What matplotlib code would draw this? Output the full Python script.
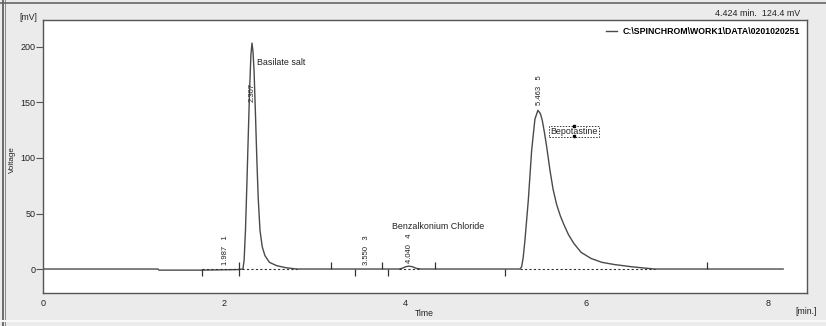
import numpy as np
import matplotlib.pyplot as plt
from matplotlib.lines import Line2D

#==============================================================================
# data
#==============================================================================

# detector trace: time [min] / signal [mV]
trace_time = [0.00, 1.27, 1.28, 1.75, 2.15, 2.207, 2.22, 2.235, 2.25, 2.265,
              2.28, 2.295, 2.307, 2.318, 2.33, 2.345, 2.36, 2.375, 2.395,
              2.42, 2.45, 2.50, 2.58, 2.68, 2.80, 3.93, 3.97, 4.00, 4.04,
              4.08, 4.12, 4.17, 5.265, 5.283, 5.30, 5.32, 5.357, 5.394,
              5.43, 5.463, 5.49, 5.511, 5.535, 5.56, 5.596, 5.63, 5.67,
              5.71, 5.75, 5.80, 5.86, 5.94, 6.05, 6.17, 6.31, 6.50, 6.75, 8.17]
trace_mv = [0.0, 0.0, -1.0, -1.0, -0.5, 0.0, 8.0, 35.0, 75.0, 118.0,
            160.0, 193.0, 203.5, 196.0, 178.0, 140.0, 100.0, 65.0, 35.0,
            20.0, 12.0, 6.0, 3.0, 1.2, 0.0, 0.0, 0.8, 2.0, 2.6,
            2.0, 0.6, 0.0, 0.0, 2.0, 10.0, 26.0, 62.0, 107.0,
            135.0, 143.0, 140.0, 134.0, 123.0, 110.0, 89.0, 72.0, 58.0,
            48.0, 40.0, 31.0, 23.0, 15.0, 9.5, 6.0, 4.0, 2.0, 0.0, 0.0]

# integration baselines (dashed)
base_start = [1.75, 3.93, 5.27]
base_end = [2.80, 4.17, 6.75]

# integration event marks
mark_up = [3.18, 3.74, 4.33, 7.33]
mark_down = [1.75, 3.44, 3.81, 5.10]
mark_cross = [2.167]

# peak labels (retention time + peak no.)
peak_rt = [1.987, 2.307, 3.550, 4.040, 5.463]
peak_lbl = ['1.987   1', '2.307', '3.550   3', '4.040   4', '5.463   5']
peak_lbl_x = [2.02, 2.306, 3.572, 4.042, 5.476]
peak_lbl_y = [3.6, 150.0, 3.6, 5.4, 147.7]

# compound names
names = ['Basilate salt', 'Benzalkonium Chloride', 'Bepotastine']
name_x = [2.36, 3.85, 5.86]
name_y = [186.0, 38.0, 123.9]

xticks = [0, 2, 4, 6, 8]
yticks = [0, 50, 100, 150, 200]

#==============================================================================
# styles
#==============================================================================

trace_col = '#4a4a4a'
txt_col = '#222222'
plt.rcParams['font.family'] = ['Liberation Sans', 'DejaVu Sans']

#==============================================================================
# plot
#==============================================================================

fig = plt.figure(figsize=(8.26, 3.26), dpi=100, facecolor='#ebebeb')
ax = fig.add_axes([43/826, 33/326, (806.7-43)/826, (293-20)/326])
ax.set_facecolor('white')
ax.set_xlim(0, 8.43)
ax.set_ylim(-21.6, 224.3)

for sp in ax.spines.values():
    sp.set_color('#555555')
    sp.set_linewidth(1.0)

ax.plot(trace_time, trace_mv, color=trace_col, lw=1.0,
        label=r'C:\SPINCHROM\WORK1\DATA\0201020251')

for a, b in zip(base_start, base_end):
    ax.plot([a, b], [0, 0], color='#333333', lw=0.8, ls=(0, (2, 2)))

ml = 6.5
ax.vlines(mark_up, 0, ml, color='#333333', lw=0.9)
ax.vlines(mark_down, -ml, 0, color='#333333', lw=0.9)
ax.vlines(mark_cross, -ml, ml, color='#333333', lw=0.9)

for s, x, y in zip(peak_lbl, peak_lbl_x, peak_lbl_y):
    ax.text(x, y, s, rotation=90, ha='center', va='bottom',
            fontsize=5.5, color=txt_col)

ax.text(name_x[0], name_y[0], names[0], fontsize=6.4, color=txt_col,
        ha='left', va='center')
ax.text(name_x[1], name_y[1], names[1], fontsize=6.4, color=txt_col,
        ha='left', va='center')
ax.text(name_x[2], name_y[2], names[2], fontsize=6.4, color=txt_col,
        ha='center', va='center',
        bbox=dict(boxstyle='square,pad=0.15', fc='none', ec='#333333',
                  ls=(0, (1.5, 1.5)), lw=0.7))
ax.plot([name_x[2], name_x[2]], [128.4, 119.4], ls='none', marker='s',
        ms=1.6, color='k')

ax.set_xticks(xticks)
ax.set_yticks(yticks)
ax.tick_params(axis='x', length=0, pad=4, labelsize=6.5, colors=txt_col)
ax.tick_params(axis='y', length=5, width=0.8, pad=0.5, labelsize=6.5,
               colors=txt_col)
ax.tick_params(axis='y', color='#555555')

leg = ax.legend(loc='upper right', frameon=False, handlelength=1.3,
                handletextpad=0.6, borderaxespad=0.4,
                prop={'size': 6.3, 'weight': 'bold'})

fig.text(800/826, 1 - 13/326, '4.424 min.  124.4 mV', ha='right',
         va='center', fontsize=6.4, color=txt_col)
fig.text(28/826, 1 - 17/326, '[mV]', ha='center', va='center',
         fontsize=6.2, color=txt_col)
fig.text(12/826, 1 - 160/326, 'Voltage', ha='center', va='center',
         rotation=90, fontsize=5.8, color=txt_col)
fig.text(424/826, 1 - 314/326, 'Time', ha='center', va='center',
         fontsize=6.2, color=txt_col)
fig.text(806/826, 1 - 311/326, '[min.]', ha='center', va='center',
         fontsize=6.2, color=txt_col)

# window frame
fig.add_artist(Line2D([2.5/826, 2.5/826], [0, 1], color='#555555', lw=1.2))
fig.add_artist(Line2D([5/826, 5/826], [0, 1], color='#888888', lw=0.7))
fig.add_artist(Line2D([0, 1], [1 - 2.5/326, 1 - 2.5/326], color='#666666',
                      lw=1.2))
fig.add_artist(Line2D([0, 1], [1 - 321/326, 1 - 321/326], color='#f8f8f8',
                      lw=1.5))

fig.savefig('out.png', dpi=100, facecolor=fig.get_facecolor())
